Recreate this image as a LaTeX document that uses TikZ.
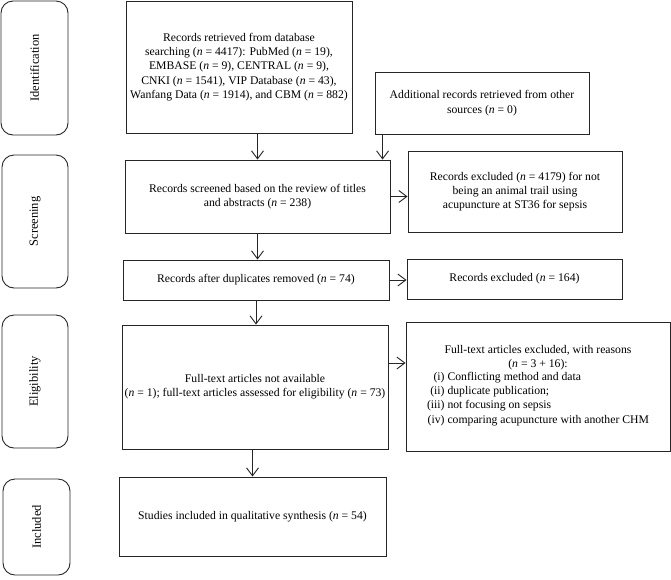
\documentclass[tikz,border=0pt]{standalone}
\usepackage{fontspec}
\setmainfont{Liberation Serif}
\usetikzlibrary{arrows.meta}
\newcommand{\nn}{\textit{n}}
\begin{document}
\begin{tikzpicture}[x=1pt,y=-1pt,
  box/.style={draw=black!85, line width=0.9pt, align=center, inner sep=0pt,
    font=\fontsize{11.7}{14.3}\selectfont},
  stage/.style={draw=black!85, line width=0.9pt, rounded corners=12pt, inner sep=0pt},
  stagetext/.style={rotate=90, font=\fontsize{12.5}{14}\selectfont},
  arr/.style={draw=black!85, line width=0.9pt, -{Straight Barb[length=8pt,width=12pt,line width=0.9pt]}}]
\useasboundingbox (0,0) rectangle (671,579);
% stage boxes
\node[stage, minimum width=67, minimum height=134] (sid) at (34.5,68) {};
\node[stagetext] (tid) at (sid.center) {Identification};
\node[stage, minimum width=66, minimum height=133] (ssc) at (35,221.5) {};
\node[stagetext] (tsc) at (ssc.center) {Screening};
\node[stage, minimum width=66, minimum height=133] (sel) at (35,381.5) {};
\node[stagetext] (tel) at (sel.center) {Eligibility};
\node[stage, minimum width=67, minimum height=96] (sin) at (36.5,527) {};
\node[stagetext] (tin) at (sin.center) {Included};
% main boxes
\node[box, minimum width=226, minimum height=132] (b1) at (239,67)
  {Records retrieved from database\\ searching (\nn{} = 4417): PubMed (\nn{} = 19),\\ EMBASE (\nn{} = 9), CENTRAL (\nn{} = 9),\\ CNKI (\nn{} = 1541), VIP Database (\nn{} = 43),\\ Wanfang Data (\nn{} = 1914), and CBM (\nn{} = 882)};
\node[box, minimum width=214, minimum height=62] (add) at (482,103)
  {Additional records retrieved from other\\ sources (\nn{} = 0)};
\node[box, minimum width=265, minimum height=73] (scr) at (257.5,196.5)
  {Records screened based on the review of titles\\ and abstracts (\nn{} = 238)};
\node[box, minimum width=214, minimum height=81] (ex1) at (515,191.5)
  {Records excluded (\nn{} = 4179) for not\\ being an animal trail using\\ acupuncture at ST36 for sepsis};
\node[box, minimum width=266, minimum height=40] (dup) at (256,280)
  {Records after duplicates removed (\nn{} = 74)};
\node[box, minimum width=215, minimum height=40] (ex2) at (514.5,279)
  {Records excluded (\nn{} = 164)};
\node[box, minimum width=266, minimum height=124] (elig) at (255,387)
  {Full-text articles not available\\ (\nn{} = 1); full-text articles assessed for eligibility (\nn{} = 73)};
\node[box, minimum width=264, minimum height=129] (ex3) at (538,386.5)
  {Full-text articles excluded, with reasons\\ (\nn{} = 3 + 16):\\[-1pt]
   \begin{tabular}{@{}r@{ }l@{}}
   (i) & Conflicting method and data\\
   (ii) & duplicate publication;\\
   (iii) & not focusing on sepsis\\
   (iv) & comparing acupuncture with another CHM
   \end{tabular}};
\node[box, minimum width=267, minimum height=79] (incl) at (252.5,516.5)
  {Studies included in qualitative synthesis (\nn{} = 54)};
% arrows
\draw[arr] (b1.south -| scr.north) -- (scr.north);
\coordinate (addp) at ([xshift=8pt]add.south west);
\draw[arr] (addp) -- (addp |- scr.north);
\draw[arr] (scr.south) -- (scr.south |- dup.north);
\draw[arr] (dup.south) -- (dup.south |- elig.north);
\draw[arr] (elig.south -| incl.north) -- (incl.north);
\draw[arr] (scr.east) -- (scr.east -| ex1.west);
\draw[arr] (dup.east) -- (dup.east -| ex2.west);
\coordinate (elp) at ([yshift=24pt]elig.east);
\draw[arr] (elp) -- (elp -| ex3.west);
\end{tikzpicture}
\end{document}
